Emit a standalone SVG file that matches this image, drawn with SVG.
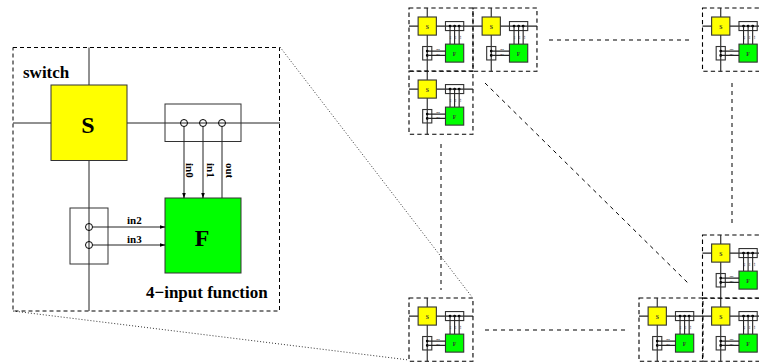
<svg xmlns="http://www.w3.org/2000/svg" xmlns:xlink="http://www.w3.org/1999/xlink" width="759" height="363" viewBox="0 0 759 363">
<style>
text{font-family:"Liberation Serif","Times New Roman",serif;font-weight:bold;fill:#000}
.w{fill:none;stroke:#222;stroke-width:1}
.box{fill:none;stroke:#333;stroke-width:1}
.y{fill:#ff0;stroke:#333;stroke-width:1}
.g{fill:#0f0;stroke:#333;stroke-width:1}
.c{fill:none;stroke:#000;stroke-width:1}
.frame{fill:none;stroke:#000;stroke-width:1;stroke-dasharray:4 3}
.link{fill:none;stroke:#000;stroke-width:1;stroke-dasharray:4 4}
.zoom{fill:none;stroke:#333;stroke-width:1;stroke-dasharray:1 2}
.t .w,.t .box,.t .y,.t .g,.t .c{stroke-width:4.6}
.t .frame{stroke-width:4.6;stroke-dasharray:18 13}
.t text{fill:#333}
.m{font-size:17px}.b{font-size:24px}.s{font-size:11px}
</style>
<defs>
<marker id="a" markerWidth="6" markerHeight="6" refX="5.5" refY="2.5" orient="auto" markerUnits="userSpaceOnUse"><path d="M0 .6L6 2.5L0 4.4z" fill="#000"/></marker>
<g id="tile" class="t">
<rect class="frame" x="13" y="47.5" width="266.5" height="263.5"/>
<path class="w" d="M89 47.5V311M13 123H280"/>
<rect class="y" x="51" y="85" width="76" height="75.500"/>
<rect class="box" x="165" y="104" width="76" height="37.500"/>
<circle class="c" cx="184" cy="123" r="3.500"/><circle class="c" cx="203" cy="123" r="3.500"/><circle class="c" cx="222" cy="123" r="3.500"/>
<path class="w" d="M184 126.500V198M203 126.500V198M222 126.500V198"/>
<rect class="g" x="165" y="198" width="76" height="75"/>
<rect class="box" x="70" y="208" width="38" height="56"/>
<circle class="c" cx="89" cy="227" r="3.500"/><circle class="c" cx="89" cy="245" r="3.500"/>
<path class="w" d="M92.500 227H165M92.500 245H165"/>
<text class="b" x="89" y="133" text-anchor="middle">S</text>
<text class="b" x="203" y="246" text-anchor="middle">F</text>
<text class="s" x="127" y="224">in2</text><text class="s" x="127" y="243">in3</text>
<text class="s" transform="translate(185.500 163) rotate(90)">in0</text>
<text class="s" transform="translate(206.500 163) rotate(90)">in1</text>
<text class="s" transform="translate(226 163) rotate(90)">out</text>
</g>
</defs>
<g id="connectors">
<path class="zoom" d="M280 47L472 297M13 311L409 360"/>
<path class="link" d="M549 40H690M441 144V290M732 83V225M485 83L690 285M485 330H625"/>
</g>
<g id="detail">
<rect class="frame" x="13" y="47.5" width="266.5" height="263.500"/>
<path class="w" d="M89 47.500V85M89 160.500V311M13 123H51M127 123H280"/>
<g id="switch-block"><rect class="y" x="51" y="85" width="76" height="75.500"/>
<text class="b" x="88" y="133" text-anchor="middle">S</text></g>
<g id="top-connect"><rect class="box" x="165" y="104" width="76" height="37.500"/>
<circle class="c" cx="184" cy="123" r="3.500"/><circle class="c" cx="203" cy="123" r="3.500"/><circle class="c" cx="222" cy="123" r="3.500"/></g>
<g id="function-block"><rect class="g" x="165" y="198" width="76" height="75"/>
<text class="b" x="202" y="246" text-anchor="middle">F</text></g>
<g id="left-connect"><rect class="box" x="70" y="208" width="38" height="56"/>
<circle class="c" cx="89" cy="227" r="3.500"/><circle class="c" cx="89" cy="245" r="3.500"/></g>
<path class="w" d="M184 126.500V198" marker-end="url(#a)"/>
<path class="w" d="M203 126.500V198" marker-end="url(#a)"/>
<path class="w" d="M222 126.500V198"/>
<path class="w" d="M92.500 227H165" marker-end="url(#a)"/>
<path class="w" d="M92.500 245H165" marker-end="url(#a)"/>
<text class="m" x="23" y="78">switch</text>
<text class="m" x="146" y="298">4−input function</text>
<text class="s" x="127" y="224">in2</text>
<text class="s" x="127" y="243">in3</text>
<text class="s" transform="translate(185.500 163) rotate(90)">in0</text>
<text class="s" transform="translate(206.500 163) rotate(90)">in1</text>
<text class="s" transform="translate(226 163) rotate(90)">out</text>
</g>
<g id="cell-1" transform="translate(409 8) scale(.24) translate(-13 -47.500)"><use xlink:href="#tile" href="#tile"/></g>
<g id="cell-2" transform="translate(473 8) scale(.24) translate(-13 -47.500)"><use xlink:href="#tile" href="#tile"/></g>
<g id="cell-3" transform="translate(409 71) scale(.24) translate(-13 -47.500)"><use xlink:href="#tile" href="#tile"/></g>
<g id="cell-4" transform="translate(702.500 8) scale(.24) translate(-13 -47.500)"><use xlink:href="#tile" href="#tile"/></g>
<g id="cell-5" transform="translate(409 298) scale(.24) translate(-13 -47.500)"><use xlink:href="#tile" href="#tile"/></g>
<g id="cell-6" transform="translate(639 298) scale(.24) translate(-13 -47.500)"><use xlink:href="#tile" href="#tile"/></g>
<g id="cell-7" transform="translate(702.500 298) scale(.24) translate(-13 -47.500)"><use xlink:href="#tile" href="#tile"/></g>
<g id="cell-8" transform="translate(702.500 235) scale(.24) translate(-13 -47.500)"><use xlink:href="#tile" href="#tile"/></g>
</svg>
